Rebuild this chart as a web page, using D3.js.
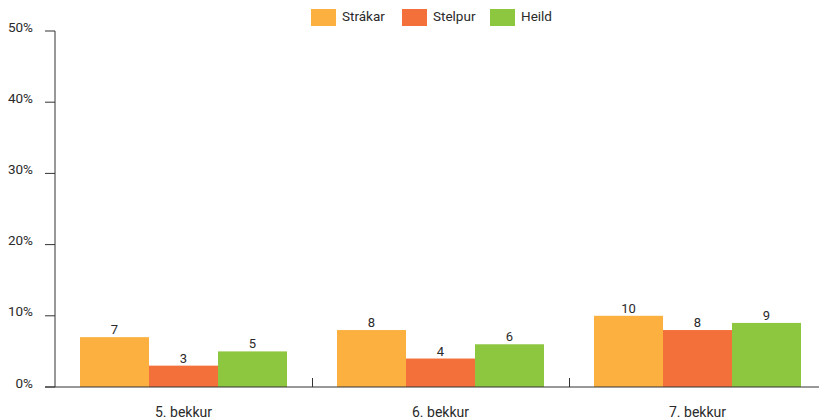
<!DOCTYPE html>
<html><head><meta charset="utf-8">
<script src="https://cdn.jsdelivr.net/npm/d3@7"></script>
<style>body{margin:0;background:#fff}svg{display:block}text{font-family:Roboto,"DejaVu Sans",sans-serif;fill:#2a2a2a}</style>
</head><body><svg id="c" width="819" height="420"></svg>
<script>
const categories = ["5. bekkur","6. bekkur","7. bekkur"];
const seriesNames = ["Strákar","Stelpur","Heild"];
const strakar = [7,8,10];
const stelpur = [3,4,8];
const heild = [5,6,9];
const colors = ["#fbb040","#f3703a","#8dc63f"];
const yTicks = [0,10,20,30,40,50];
const seriesVals = [strakar, stelpur, heild];

const svg = d3.select("#c");
const x0 = d3.scaleBand().domain(categories).range([55,826]).paddingInner(0).paddingOuter(0);
const x1 = d3.scaleBand().domain(seriesNames).range([25, x0.bandwidth()-25]);
const y = d3.scaleLinear().domain([0,50]).range([387,31]);

// y axis
svg.append("line").attr("x1",55).attr("x2",55).attr("y1",y(50)).attr("y2",y(0)).attr("stroke","#333");
yTicks.forEach(t=>{
  svg.append("line").attr("x1",45).attr("x2",55).attr("y1",y(t)).attr("y2",y(t)).attr("stroke","#333");
  svg.append("text").attr("x",33).attr("y",y(t)-3).attr("text-anchor","end").attr("dominant-baseline","middle").attr("font-size",13.5).text(t+"%");
});

// bars
categories.forEach((c,ci)=>{
  seriesNames.forEach((s,si)=>{
    const v = seriesVals[si][ci];
    const bx = x0(c)+x1(s);
    svg.append("rect").attr("x",bx).attr("y",y(v)).attr("width",x1.bandwidth()).attr("height",y(0)-y(v)).attr("fill",colors[si]);
    svg.append("text").attr("x",bx+x1.bandwidth()/2).attr("y",y(v)-3).attr("text-anchor","middle").attr("font-size",13).text(v);
  });
  svg.append("text").attr("x",x0(c)+x0.bandwidth()/2).attr("y",417).attr("text-anchor","middle").attr("font-size",14).text(c);
});

// x axis
svg.append("line").attr("x1",45).attr("x2",826).attr("y1",y(0)).attr("y2",y(0)).attr("stroke","#333");
categories.forEach((c,ci)=>{
  if(ci>0){const xx=Math.round(x0(c))+0.5;
  svg.append("line").attr("x1",xx).attr("x2",xx).attr("y1",y(0)).attr("y2",y(0)-9).attr("stroke","#333");}
});

// legend
const legX = [311,402,490];
seriesNames.forEach((s,i)=>{
  svg.append("rect").attr("x",legX[i]).attr("y",9).attr("width",25).attr("height",17).attr("fill",colors[i]);
  svg.append("text").attr("x",legX[i]+31).attr("y",17.5).attr("dominant-baseline","middle").attr("font-size",13.5).text(s);
});
</script></body></html>
